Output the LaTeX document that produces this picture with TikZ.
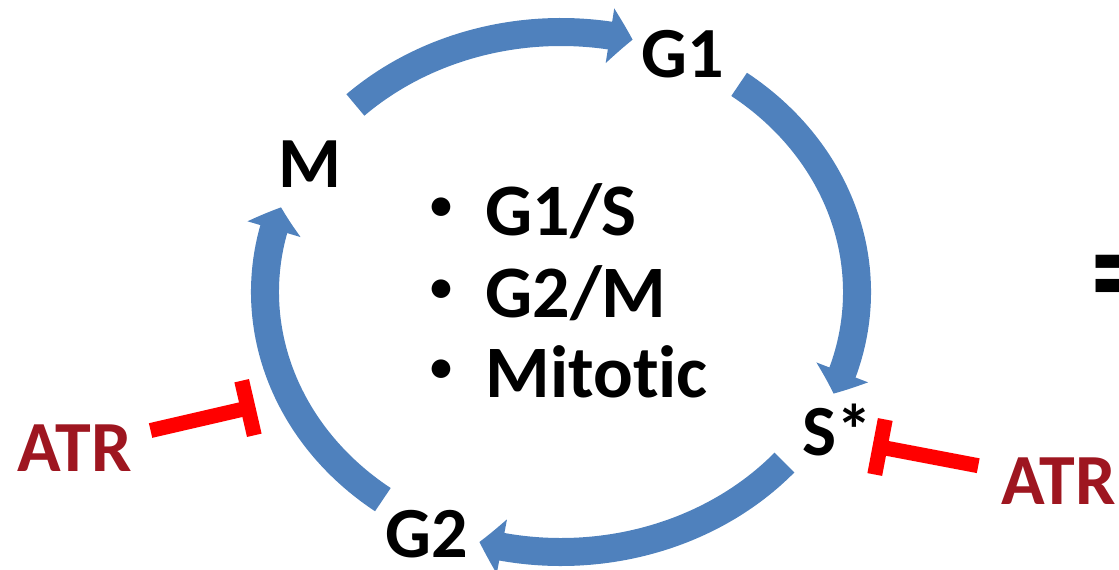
\documentclass[tikz,border=0pt]{standalone}
\usepackage{fontspec}
\setmainfont{Carlito}[Ligatures=NoCommon]
\usetikzlibrary{arrows.meta,bending,calc}
\definecolor{cycleblue}{RGB}{79,129,189}
\definecolor{atrred}{RGB}{158,22,32}
\definecolor{inhred}{RGB}{255,0,0}
% small raised bullet for the checkpoint list
\newcommand{\itembullet}{\makebox[27.5pt][l]{\raisebox{8pt}{\fontsize{22}{22}\selectfont •}}}
\begin{document}
\begin{tikzpicture}[x=0.5pt,y=0.5pt,
  phase/.style={font=\fontsize{36}{40}\selectfont\bfseries, inner sep=0pt, anchor=base},
  atr/.style={font=\fontsize{36}{40}\selectfont\bfseries, text=atrred, inner sep=0pt},
  item/.style={font=\fontsize{37}{44}\selectfont\bfseries, inner sep=0pt, anchor=base west},
  cyc/.style={draw=cycleblue, line width=14pt, -{Triangle[width=27pt,length=11.5pt,bend]}},
  inh/.style={draw=inhred, line width=7.5pt},
]
\useasboundingbox (0,0) rectangle (1119,569);
% centre of the cycle
\coordinate (c) at (561,277);

% phase labels
\node[phase] (g1) at (683,491) {G1};
\node[phase] (m)  at (310,382) {M};
\node[phase] (s)  at (837,114) {S*};
\node[phase] (g2) at (427,12)  {G2};

% checkpoints listed inside the cycle
\node[item] (b1) at (430,334) {\itembullet G1/S};
\node[item] (b2) at (430,252) {\itembullet G2/M};
\node[item] (b3) at (430,172) {\itembullet Mitotic};

% cycle arrows
\draw[cyc] (c) ++(134:296 and 260) arc[start angle=134,end angle=76,x radius=296,y radius=260];
\draw[cyc] (c) ++(53:296 and 260)  arc[start angle=53,end angle=-23,x radius=296,y radius=260];
\draw[cyc] (c) ++(-41:296 and 260) arc[start angle=-41,end angle=-106,x radius=296,y radius=260];
\draw[cyc] (c) ++(-127:296 and 260) arc[start angle=-127,end angle=-199,x radius=296,y radius=260];

% ATR inhibition
\node[atr] (atrL) at (75,121) {ATR};
\node[atr, anchor=west] (atrR) at (1001,88) {ATR};
\coordinate (tL) at (248,161);
\coordinate (tR) at (880,122);
\draw[inh] (tL) -- ($(tL)!50pt!(atrL)$);
\draw[inh] ($(tL)!14pt!90:(atrL)$) -- ($(tL)!14pt!-90:(atrL)$);
\draw[inh] (tR) -- ($(tR)!50pt!(atrR)$);
\draw[inh] ($(tR)!14pt!90:(atrR)$) -- ($(tR)!14pt!-90:(atrR)$);

% equals sign at the right edge
\node[font=\fontsize{72}{80}\selectfont\bfseries, inner sep=0pt, anchor=base west] (eq) at (1090,250) {=};
\end{tikzpicture}
\end{document}
